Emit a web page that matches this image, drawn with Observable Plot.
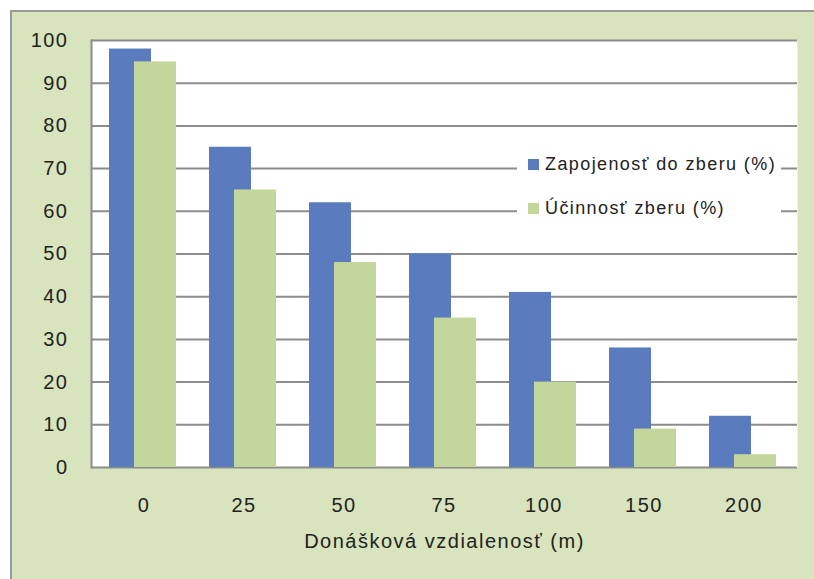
<!DOCTYPE html>
<html>
<head>
<meta charset="utf-8">
<script src="https://cdn.jsdelivr.net/npm/d3@7"></script>
<script src="https://cdn.jsdelivr.net/npm/@observablehq/plot@0.6"></script>
<style>
  html, body { margin: 0; padding: 0; background: #ffffff; }
  #wrap { position: relative; width: 814px; height: 579px; overflow: hidden; }
  #bg { position: absolute; left: 10px; top: 10px; right: 0; bottom: 0;
        background: #d7e4bd; border-top: 2px solid #9a9a9a; border-left: 2px solid #9a9a9a; }
  #chart { position: absolute; left: 0; top: 0; }
  #legend { position: absolute; left: 517px; top: 146px; width: 264px; height: 82px; background: #ffffff;
            font-family: "Liberation Sans", "DejaVu Sans", sans-serif; font-size: 18px; letter-spacing: 1.4px; color: #222; }
  .item { position: absolute; left: 11px; display: flex; align-items: center; white-space: nowrap; }
  .sw { width: 11px; height: 11px; margin-right: 6px; }
</style>
</head>
<body>
<div id="wrap">
  <div id="bg"></div>
  <div id="chart"></div>
  <div id="legend"></div>
</div>
<script>
const categories = ["0", "25", "50", "75", "100", "150", "200"];
const zapojenost = [98, 75, 62, 50, 41, 28, 12];
const ucinnost = [95, 65, 48, 35, 20, 9, 3];
const yTicks = [0, 10, 20, 30, 40, 50, 60, 70, 80, 90, 100];
const seriesNames = ["Zapojenosť do zberu (%)", "Účinnosť zberu (%)"];
const seriesColors = ["#5a7bbe", "#c3d69b"];
const xLabel = "Donášková vzdialenosť (m)";

const blueData = categories.map((c, i) => ({cat: c, value: zapojenost[i]}));
const greenData = categories.map((c, i) => ({cat: c, value: ucinnost[i]}));

const grid = "#8c8c8c";
const chart = Plot.plot({
  width: 814,
  height: 579,
  marginLeft: 91,
  marginRight: 17,
  marginTop: 40,
  marginBottom: 112,
  style: {background: "transparent", fontFamily: "'Liberation Sans', 'DejaVu Sans', sans-serif", color: "#222", letterSpacing: "1.5px"},
  x: {domain: categories, paddingInner: 0.326, paddingOuter: 0.163},
  y: {domain: [0, 100]},
  marks: [
    Plot.frame({fill: "white", stroke: null}),
    Plot.ruleY(yTicks, {stroke: grid, strokeWidth: 2}),
    Plot.frame({anchor: "left", stroke: grid, strokeWidth: 2}),
    Plot.barY(blueData, {x: "cat", y: "value", fill: seriesColors[0], insetRight: 25, dx: -1}),
    Plot.barY(greenData, {x: "cat", y: "value", fill: seriesColors[1], insetLeft: 25, dx: -1}),
    Plot.axisY({ticks: yTicks, tickSize: 0, tickPadding: 23, label: null, fontSize: 20}),
    Plot.axisX({tickSize: 0, tickPadding: 30, fontSize: 20, label: xLabel, labelAnchor: "center", labelOffset: 80, labelArrow: "none"})
  ]
});
document.getElementById("chart").appendChild(chart);

const legend = document.getElementById("legend");
seriesNames.forEach((name, i) => {
  const item = document.createElement("div");
  item.className = "item";
  item.style.top = (i === 0 ? 8 : 52) + "px";
  const sw = document.createElement("div");
  sw.className = "sw";
  sw.style.background = seriesColors[i];
  const t = document.createElement("span");
  t.textContent = name;
  item.appendChild(sw);
  item.appendChild(t);
  legend.appendChild(item);
});
</script>
</body>
</html>
